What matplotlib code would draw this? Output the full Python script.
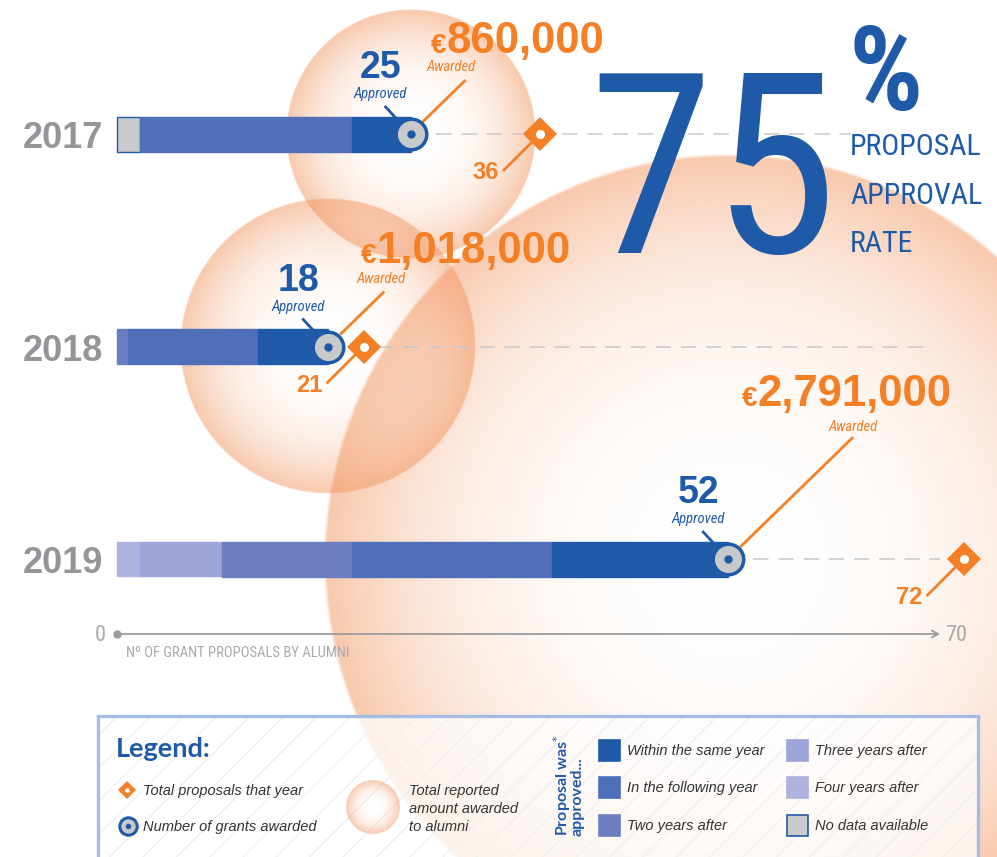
import numpy as np
import matplotlib
matplotlib.use("Agg")
import matplotlib.pyplot as plt
from matplotlib import font_manager
from matplotlib.patches import Rectangle
from matplotlib.colors import to_rgb

# ---- data ----
years = ["2017", "2018", "2019"]
proposals = [36, 21, 72]          # total proposals that year
approved = [25, 18, 52]           # number of grants awarded
awarded = [860000, 1018000, 2791000]
approval_rate = 75

# approved proposals split by when they were approved
same_year = [5, 6, 15]
following_year = [18, 11, 17]
two_years = [0, 1, 11]
three_years = [0, 0, 7]
four_years = [0, 0, 2]
no_data = [2, 0, 0]

BLUE = "#1f5aa8"
ORANGE = "#f47f24"
GRAY = "#939598"
BUBBLE = "#f2925a"

W, H = 997, 857
X0, Y0 = 116.5, 134          # pixel of x=0 and of the first row
PX = (940 - 116.5) / 70      # pixels per proposal
PY = 212.5                   # pixels between rows
BAR_H = 35 / PY
K_BUBBLE = 125 / 860000      # bubble radius (px) per euro


def pick_font(names, default):
    available = {f.name for f in font_manager.fontManager.ttflist}
    for n in names:
        if n in available:
            return n
    return default


SANS = pick_font(["Liberation Sans", "Arial"], "DejaVu Sans")
NARROW = pick_font(["Liberation Sans Narrow", "Roboto Condensed", "Arial Narrow"], SANS)
ROUND = pick_font(["Lato", "Open Sans"], SANS)


def off(x, y, dx, dy):
    """data point shifted by a pixel offset (dy positive = down)"""
    return x + dx / PX, y + dy / PY


def bubble(a, xc, yc, rx, ry, z):
    n = 600
    t = np.linspace(-1, 1, n)
    X, Y = np.meshgrid(t, t)
    R = np.hypot(X, Y)
    img = np.zeros((n, n, 4))
    img[..., :3] = to_rgb(BUBBLE)
    alpha = 0.01 + 0.5 * R ** 2.8
    alpha *= np.clip((1 - R) * n / 5, 0, 1)
    img[..., 3] = alpha
    a.imshow(img, extent=(xc - rx, xc + rx, yc + ry, yc - ry),
             interpolation="bilinear", aspect="auto", zorder=z)


fig = plt.figure(figsize=(W / 100, H / 100), dpi=100)
ax = fig.add_axes([0, 0, 1, 1])
ax.axis("off")

y = np.arange(len(years))

# bubbles: radius proportional to amount awarded
for i in range(len(years)):
    r = awarded[i] * K_BUBBLE
    bubble(ax, approved[i], y[i], r / PX, r / PY, 1 + i * 0.1)

# dashed guide lines
dash_end = [62.4, 69.2, 70]
for i in range(len(years)):
    ax.plot([approved[i], dash_end[i]], [y[i], y[i]], color="#c7c8ca",
            lw=1.1, ls=(0, (10, 6.5)), zorder=2)

# stacked bars
segments = [
    (no_data, "#c9cacc"),
    (four_years, "#adb3de"),
    (three_years, "#9ea5d8"),
    (two_years, "#6b7ec0"),
    (following_year, "#4f70b8"),
    (same_year, BLUE),
]
left = np.zeros(len(years))
for vals, col in segments:
    vals = np.array(vals, dtype=float)
    m = vals > 0
    ec = BLUE if col == "#c9cacc" else col
    ax.barh(y[m], vals[m], left=left[m], height=BAR_H, color=col,
            edgecolor=ec, lw=1.0, zorder=3)
    left += vals

# year labels
for i, yr in enumerate(years):
    ax.text(*off(0, y[i], -13, 14), yr, ha="right", va="baseline",
            fontsize=26, fontweight="bold", color=GRAY, family=SANS)

# approved markers + labels
for i in range(len(years)):
    cx, cy = approved[i], y[i]
    ax.plot(*zip((cx, cy), off(cx, cy, -25, -27)), color=BLUE, lw=2, zorder=5)
    ax.plot(cx, cy, "o", ms=22, mfc="#c8c9cb", mec=BLUE, mew=2.5, zorder=6)
    ax.plot(cx, cy, "o", ms=5, color=BLUE, zorder=7)
    ax.text(*off(cx, cy, -30, -56), str(approved[i]), ha="center", va="baseline",
            fontsize=27, fontweight="bold", color=BLUE, family=SANS, zorder=8)
    ax.text(*off(cx, cy, -30, -36), "Approved", ha="center", va="baseline",
            fontsize=10.5, style="italic", color=BLUE, family=NARROW, zorder=8)

# awarded amount labels
lead_end = [(54, -53), (55, -54), (124, -121)]
aw_pos = [(40, -63), (53, -64), (125, -128)]
amt_pos = [(36, -81), (48, -84), (29, -153)]
for i in range(len(years)):
    cx, cy = approved[i], y[i]
    ax.plot(*zip(off(cx, cy, 13, -13), off(cx, cy, *lead_end[i])),
            color=ORANGE, lw=2, zorder=5)
    ax.text(*off(cx, cy, *aw_pos[i]), "Awarded", ha="center", va="baseline",
            fontsize=10.5, style="italic", color=ORANGE, family=NARROW, zorder=8)
    ax.text(*off(cx, cy, *amt_pos[i]), "\u20ac", ha="right", va="baseline",
            fontsize=20, fontweight="bold", color=ORANGE, family=SANS, zorder=8)
    ax.text(*off(cx, cy, *amt_pos[i]), f"{awarded[i]:,}", ha="left", va="baseline",
            fontsize=31.5, fontweight="bold", color=ORANGE, family=SANS, zorder=8)

# total proposals diamonds
for i in range(len(years)):
    px_, py_ = proposals[i], y[i]
    ax.plot(*zip((px_, py_), off(px_, py_, -36, 36)), color=ORANGE, lw=2, zorder=5)
    ax.plot(px_, py_, "D", ms=17.5, color=ORANGE, mew=0, zorder=6)
    ax.plot(px_, py_, "o", ms=6.5, color="white", mew=0, zorder=7)
    ax.text(*off(px_, py_, -41, 45), str(proposals[i]), ha="right", va="baseline",
            fontsize=17, fontweight="bold", color=ORANGE, family=SANS, zorder=8)

# x axis
ay = (634 - Y0) / PY
ax.annotate("", xy=(70, ay), xytext=(0, ay),
            arrowprops=dict(arrowstyle="->,head_length=0.45,head_width=0.25",
                            color="#9a9b9e", lw=1.3, shrinkA=0, shrinkB=0), zorder=4)
ax.plot(0, ay, "o", ms=5, color="#9a9b9e", zorder=4)
ax.text(*off(0, ay, -11, 7), "0", ha="right", va="baseline", fontsize=16,
        color="#a7a9ac", family=NARROW)
ax.text(*off(70, ay, 5, 7), "70", ha="left", va="baseline", fontsize=16,
        color="#a7a9ac", family=NARROW)
ax.text(*off(0, ay, 9, 23), "N\u00ba OF GRANT PROPOSALS BY ALUMNI", ha="left",
        va="baseline", fontsize=10.5, color="#a7a9ac", family=NARROW)

ax.set_xlim(-X0 / PX, (W - X0) / PX)
ax.set_ylim((H - Y0) / PY, -Y0 / PY)


# headline figure
def ftext(xp, yp, s, **kw):
    fig.text(xp / W, 1 - yp / H, s, **kw)


ftext(838, 253, f"{approval_rate}", ha="right", va="baseline", fontsize=182,
      color=BLUE, family=NARROW)
ftext(848, 110, "%", ha="left", va="baseline", fontsize=84, fontweight="bold",
      color=BLUE, family=NARROW)
for txt, yb in [("PROPOSAL", 155), ("APPROVAL", 204), ("RATE", 252)]:
    ftext(850, yb, txt, ha="left", va="baseline", fontsize=21.5, color=BLUE, family=NARROW)

# ---- legend ----
lax = fig.add_axes([98 / W, 0, (978 - 98) / W, (H - 716) / H])
lax.set_xticks([])
lax.set_yticks([])
lax.set_facecolor((1, 1, 1, 0.75))
for s in ["left", "top", "right"]:
    lax.spines[s].set_color("#a6bde3")
    lax.spines[s].set_linewidth(2.4)
lax.spines["bottom"].set_visible(False)
lax.add_patch(Rectangle((98, 716), 880, H - 716, fill=False, hatch="/",
                        edgecolor="#f0f0f0", lw=0, zorder=0))

lax.text(116, 757, "Legend:", fontsize=19.5, fontweight="bold", color=BLUE,
         family=ROUND, va="baseline")
lab = dict(fontsize=10.5, style="italic", color="#333333", family=SANS, va="baseline")
lax.plot(127, 790, "D", ms=9.5, color=ORANGE, mew=0)
lax.plot(127, 790, "o", ms=3.5, color="white", mew=0)
lax.text(143, 795, "Total proposals that year", **lab)
lax.plot(128, 826, "o", ms=12.5, mfc="#c8c9cb", mec=BLUE, mew=2.2)
lax.plot(128, 826, "o", ms=3, color=BLUE)
lax.text(143, 831, "Number of grants awarded", **lab)
bubble(lax, 373, 807, 27, 27, 2)
for txt, yb in [("Total reported", 795), ("amount awarded", 813), ("to alumni", 831)]:
    lax.text(409, yb, txt, **lab)

lax.text(562, 836, "Proposal was$^{*}$", rotation=90, ha="center", va="bottom",
         fontsize=11.5, fontweight="bold", color=BLUE, family=ROUND)
lax.text(578, 836, "approved...", rotation=90, ha="center", va="bottom",
         fontsize=11.5, fontweight="bold", color=BLUE, family=ROUND)

legend_items = [
    ("Within the same year", BLUE),
    ("In the following year", "#4f70b8"),
    ("Two years after", "#6b7ec0"),
    ("Three years after", "#9ea5d8"),
    ("Four years after", "#adb3de"),
    ("No data available", "#c9cacc"),
]
for k, (txt, col) in enumerate(legend_items):
    xs = 599 if k < 3 else 787
    yc = [750, 787, 825][k % 3]
    ec = BLUE if col == "#c9cacc" else col
    lax.add_patch(Rectangle((xs, yc - 10.5), 21, 21, facecolor=col, edgecolor=ec, lw=1.2))
    lax.text(xs + 28, yc + 5, txt, **lab)

lax.set_xlim(98, 978)
lax.set_ylim(H, 716)

fig.savefig("out.png", dpi=100)
